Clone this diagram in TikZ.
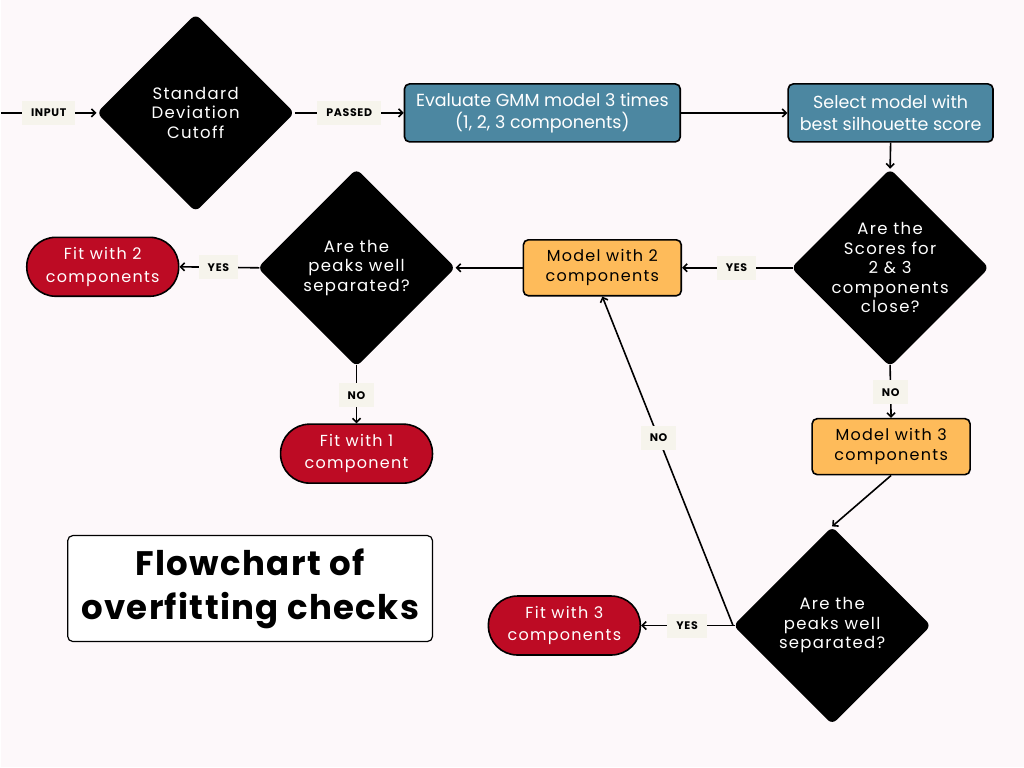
\documentclass[tikz,border=0pt]{standalone}
\usepackage{fontspec}
\setmainfont{Poppins}
\newfontfamily\wide[LetterSpace=8]{Poppins}
\newfontfamily\lblfont[LetterSpace=6]{Poppins}
\newfontfamily\titlefont[LetterSpace=4]{Poppins}
\usetikzlibrary{shapes.geometric,arrows.meta}
\definecolor{fundo}{RGB}{253,248,250}
\definecolor{azul}{RGB}{76,135,161}
\definecolor{laranja}{RGB}{254,187,90}
\definecolor{vermelho}{RGB}{189,11,36}
\definecolor{etiq}{RGB}{246,244,236}
\begin{document}
\begin{tikzpicture}[x=1pt,y=-1pt,
    seta/.style={line width=1.6pt,-{Straight Barb[length=4pt,width=8pt]}},
    dec/.style={diamond,fill=black,text=white,rounded corners=6pt,minimum size=198pt,
        inner sep=-10pt,align=center,font=\wide\fontsize{16.5}{19.5}\selectfont},
    proc/.style={rectangle,draw=black,line width=1.6pt,fill=azul,text=white,rounded corners=5pt,
        minimum height=58pt,align=center,font=\fontsize{17.5}{22}\selectfont},
    opt/.style={rectangle,draw=black,line width=1.6pt,fill=laranja,rounded corners=5pt,
        minimum width=158pt,minimum height=56pt,align=center,font=\wide\fontsize{16}{20}\selectfont},
    fim/.style={rectangle,draw=black,line width=1.6pt,fill=vermelho,text=white,rounded corners=29pt,
        minimum width=152pt,minimum height=59pt,align=center,font=\wide\fontsize{16}{22.5}\selectfont},
    rot/.style={fill=etiq,minimum height=24pt,inner xsep=9pt,font=\lblfont\bfseries\fontsize{11}{12}\selectfont}]
    \fill[fundo] (0,0) rectangle (1024,768);
    % first row
    \coordinate (in) at (0,113);
    \node[dec] (sd) at (195,113) {Standard\\Deviation\\Cutoff};
    \node[proc,minimum width=276pt] (gmm) at (542,113) {Evaluate GMM model 3 times\\(1, 2, 3 components)};
    \node[proc,minimum width=205pt] (sel) at (890.5,113) {Select model with\\best silhouette score};
    \draw[seta] (in) -- node[rot] {INPUT} (sd.west);
    \draw[seta] (sd.east) -- node[rot] {PASSED} (gmm.west);
    \draw[seta] (gmm.east) -- (sel.west);
    % decisions
    \node[dec] (close) at (890,268) {Are the\\Scores for\\2 \& 3\\components\\close?};
    \node[opt] (m2) at (602,268) {Model with 2\\components};
    \node[opt] (m3) at (891,447) {Model with 3\\components};
    \node[dec] (sep2) at (356,268) {Are the\\peaks well\\separated?};
    \node[dec] (sep3) at (832,626) {Are the\\peaks well\\separated?};
    \node[fim] (f2) at (102,267) {Fit with 2\\components};
    \node[fim] (f1) at (356,454) {Fit with 1\\component};
    \node[fim] (f3) at (564,626) {Fit with 3\\components};
    \draw[seta] (sel.south) -- (close.north);
    \draw[seta,shorten <=-2pt] (close.west) -- node[rot] {YES} (m2.east);
    \draw[seta,shorten <=-2pt] (close.south) -- node[rot] {NO} (m3.north);
    \draw[seta] (m2.west) -- (sep2.east);
    \draw[seta,shorten <=-2pt] (sep2.west) -- node[rot] {YES} (f2.east);
    \draw[seta,shorten <=-2pt] (sep2.south) -- node[rot] {NO} (f1.north);
    \draw[seta] (m3.south) -- (sep3.north);
    \draw[seta,shorten <=-2pt] (sep3.west) -- node[rot] {YES} (f3.east);
    \draw[seta] (sep3.west) -- node[rot,pos=0.57] {NO} (m2.south);
    % title
    \node[draw=black,line width=1.2pt,fill=white,rounded corners=5pt,minimum width=365pt,minimum height=106pt,
        align=center,font=\titlefont\bfseries\fontsize{34}{44}\selectfont] (titulo) at (249.5,589) {Flowchart of\\overfitting checks};
\end{tikzpicture}
\end{document}
